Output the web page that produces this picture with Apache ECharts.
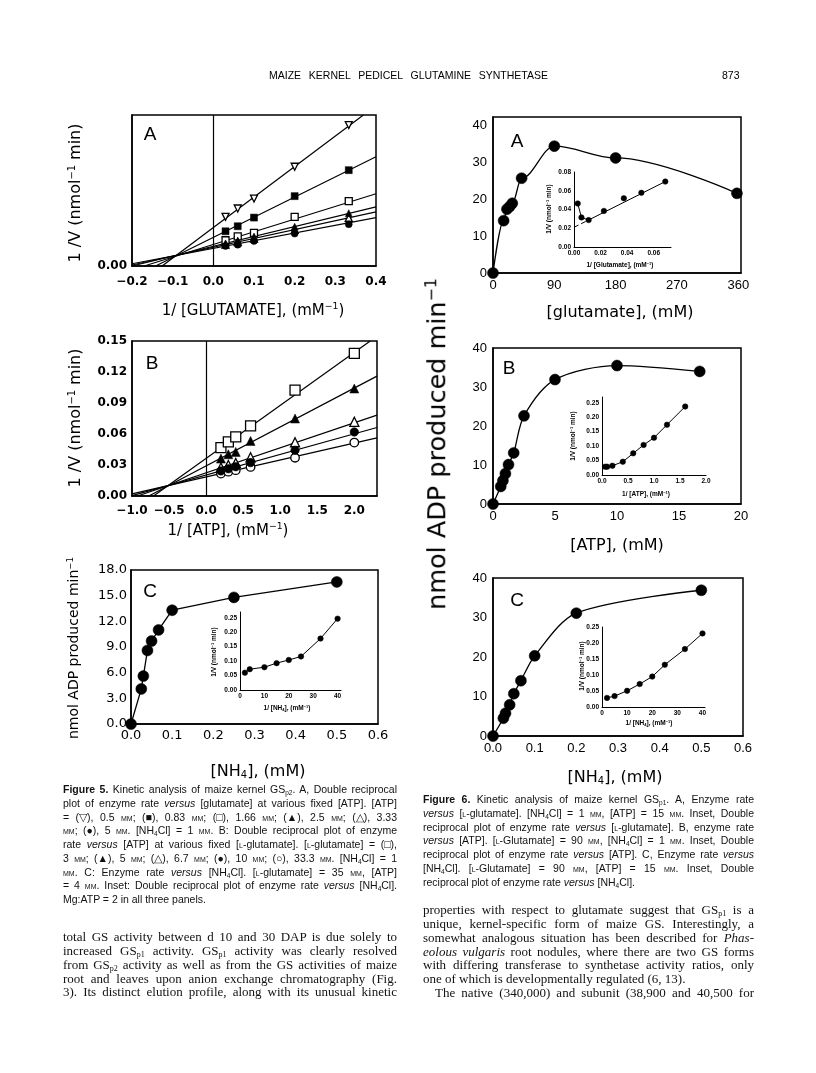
<!DOCTYPE html>
<html><head><meta charset="utf-8">
<script src="https://cdn.jsdelivr.net/npm/echarts@6/dist/echarts.min.js"></script>
<style>
html,body{margin:0;padding:0;background:#fff;}
#page{position:relative;width:816px;height:1073px;overflow:hidden;background:#fff;}
#chart{position:absolute;left:0;top:0;width:816px;height:1073px;}
.t{position:absolute;white-space:nowrap;color:#000;line-height:1;}
.c{transform:translate(-50%,-50%);}
.r{transform:translate(-50%,-50%) rotate(-90deg);}
.ax{font-family:"DejaVu Sans",sans-serif;}
.inset{font-family:"Liberation Sans",Arial,sans-serif;font-weight:bold;font-size:6.5px;}
.blk{position:absolute;color:#111;}
.cap{font-family:"Liberation Sans",Arial,sans-serif;font-size:10.5px;line-height:13.75px;}
.body{font-family:"Liberation Serif","Times New Roman",serif;font-size:13px;line-height:13.85px;}
.j{white-space:nowrap;height:13.75px;}
.body .j{height:13.85px;}
.j span.in{display:inline-block;transform-origin:0 50%;white-space:nowrap;}
.sc{font-variant:small-caps;}
sup{font-size:0.62em;vertical-align:0.55em;line-height:0;}
sub{font-size:0.62em;vertical-align:-0.25em;line-height:0;}
</style>
</head><body>
<div id="page">
<div id="chart"></div>

<!-- header -->
<div class="t j" data-w="279" style="left:269px;top:70px;font-family:'Liberation Sans',Arial,sans-serif;font-size:10.5px;"><span class="in">MAIZE KERNEL PEDICEL GLUTAMINE SYNTHETASE</span></div>
<div class="t" style="left:722px;top:70px;font-family:'Liberation Sans',Arial,sans-serif;font-size:10.5px;">873</div>

<!-- panel letters -->
<div class="t c" style="left:150px;top:133px;font-family:'Liberation Sans',Arial;font-size:19px;">A</div>
<div class="t c" style="left:152px;top:362px;font-family:'Liberation Sans',Arial;font-size:19px;">B</div>
<div class="t c" style="left:150px;top:590px;font-family:'Liberation Sans',Arial;font-size:19px;">C</div>
<div class="t c" style="left:517px;top:140px;font-family:'Liberation Sans',Arial;font-size:19px;">A</div>
<div class="t c" style="left:509px;top:367px;font-family:'Liberation Sans',Arial;font-size:19px;">B</div>
<div class="t c" style="left:517px;top:599px;font-family:'Liberation Sans',Arial;font-size:19px;">C</div>

<!-- Fig 5 axis titles -->
<div class="t r ax" style="left:75px;top:193px;font-size:16px;">1 /V (nmol<sup>−1</sup> min)</div>
<div class="t c ax" style="left:253px;top:310px;font-size:15px;">1/ [GLUTAMATE], (mM<sup>−1</sup>)</div>
<div class="t r ax" style="left:75px;top:418px;font-size:16px;">1 /V (nmol<sup>−1</sup> min)</div>
<div class="t c ax" style="left:228px;top:530px;font-size:15px;">1/ [ATP], (mM<sup>−1</sup>)</div>
<div class="t r ax" style="left:73px;top:648px;font-size:14px;">nmol ADP produced min<sup>−1</sup></div>
<div class="t c ax" style="left:258px;top:771px;font-size:16px;">[NH<sub>4</sub>], (mM)</div>
<!-- Fig 5C inset titles -->
<div class="t r inset" style="left:214px;top:652px;">1/V (nmol<sup>−1</sup> min)</div>
<div class="t c inset" style="left:287px;top:708px;">1/ [NH<sub>4</sub>], (mM<sup>−1</sup>)</div>

<!-- Fig 6 axis titles -->
<div class="t r ax" style="left:437px;top:444px;font-size:25.5px;">nmol ADP produced min<sup>−1</sup></div>
<div class="t c ax" style="left:620px;top:312px;font-size:16px;">[glutamate], (mM)</div>
<div class="t c ax" style="left:617px;top:545px;font-size:16px;">[ATP], (mM)</div>
<div class="t c ax" style="left:615px;top:777px;font-size:16px;">[NH<sub>4</sub>], (mM)</div>
<!-- Fig 6 inset titles -->
<div class="t r inset" style="left:549px;top:209px;">1/V (nmol<sup>−1</sup> min)</div>
<div class="t c inset" style="left:620px;top:265px;">1/ [Glutamate], (mM<sup>−1</sup>)</div>
<div class="t r inset" style="left:573px;top:436px;">1/V (nmol<sup>−1</sup> min)</div>
<div class="t c inset" style="left:646px;top:494px;">1/ [ATP], (mM<sup>−1</sup>)</div>
<div class="t r inset" style="left:582px;top:666px;">1/V (nmol<sup>−1</sup> min)</div>
<div class="t c inset" style="left:649px;top:723px;">1/ [NH<sub>4</sub>], (mM<sup>−1</sup>)</div>

<!-- Figure 5 caption -->
<div class="blk cap" style="left:63px;top:783px;width:334px;">
<div class="j" data-w="334"><span class="in"><b>Figure 5.</b> Kinetic analysis of maize kernel GS<sub>p2</sub>. A, Double reciprocal</span></div>
<div class="j" data-w="334"><span class="in">plot of enzyme rate <i>versus</i> [glutamate] at various fixed [ATP]. [ATP]</span></div>
<div class="j" data-w="334"><span class="in">= (▽), 0.5 <span class="sc">mm</span>; (■), 0.83 <span class="sc">mm</span>; (□), 1.66 <span class="sc">mm</span>; (▲), 2.5 <span class="sc">mm</span>; (△), 3.33</span></div>
<div class="j" data-w="334"><span class="in"><span class="sc">mm</span>; (●), 5 <span class="sc">mm</span>. [NH<sub>4</sub>Cl] = 1 <span class="sc">mm</span>. B: Double reciprocal plot of enzyme</span></div>
<div class="j" data-w="334"><span class="in">rate <i>versus</i> [ATP] at various fixed [<span class="sc">l</span>-glutamate]. [<span class="sc">l</span>-glutamate] = (□),</span></div>
<div class="j" data-w="334"><span class="in">3 <span class="sc">mm</span>; (▲), 5 <span class="sc">mm</span>; (△), 6.7 <span class="sc">mm</span>; (●), 10 <span class="sc">mm</span>; (○), 33.3 <span class="sc">mm</span>. [NH<sub>4</sub>Cl] = 1</span></div>
<div class="j" data-w="334"><span class="in"><span class="sc">mm</span>. C: Enzyme rate <i>versus</i> [NH<sub>4</sub>Cl]. [<span class="sc">l</span>-glutamate] = 35 <span class="sc">mm</span>, [ATP]</span></div>
<div class="j" data-w="334"><span class="in">= 4 <span class="sc">mm</span>. Inset: Double reciprocal plot of enzyme rate <i>versus</i> [NH<sub>4</sub>Cl].</span></div>
<div class="j"><span class="in">Mg:ATP = 2 in all three panels.</span></div>
</div>

<!-- left body text -->
<div class="blk body" style="left:63px;top:930px;width:334px;">
<div class="j" data-w="334"><span class="in">total GS activity between d 10 and 30 DAP is due solely to</span></div>
<div class="j" data-w="334"><span class="in">increased GS<sub>p1</sub> activity. GS<sub>p1</sub> activity was clearly resolved</span></div>
<div class="j" data-w="334"><span class="in">from GS<sub>p2</sub> activity as well as from the GS activities of maize</span></div>
<div class="j" data-w="334"><span class="in">root and leaves upon anion exchange chromatography (Fig.</span></div>
<div class="j" data-w="334"><span class="in">3). Its distinct elution profile, along with its unusual kinetic</span></div>
</div>

<!-- Figure 6 caption -->
<div class="blk cap" style="left:423px;top:793px;width:331px;">
<div class="j" data-w="331"><span class="in"><b>Figure 6.</b> Kinetic analysis of maize kernel GS<sub>p1</sub>. A, Enzyme rate</span></div>
<div class="j" data-w="331"><span class="in"><i>versus</i> [<span class="sc">l</span>-glutamate]. [NH<sub>4</sub>Cl] = 1 <span class="sc">mm</span>, [ATP] = 15 <span class="sc">mm</span>. Inset, Double</span></div>
<div class="j" data-w="331"><span class="in">reciprocal plot of enzyme rate <i>versus</i> [<span class="sc">l</span>-glutamate]. B, enzyme rate</span></div>
<div class="j" data-w="331"><span class="in"><i>versus</i> [ATP]. [<span class="sc">l</span>-Glutamate] = 90 <span class="sc">mm</span>, [NH<sub>4</sub>Cl] = 1 <span class="sc">mm</span>. Inset, Double</span></div>
<div class="j" data-w="331"><span class="in">reciprocal plot of enzyme rate <i>versus</i> [ATP]. C, Enzyme rate <i>versus</i></span></div>
<div class="j" data-w="331"><span class="in">[NH<sub>4</sub>Cl]. [<span class="sc">l</span>-Glutamate] = 90 <span class="sc">mm</span>, [ATP] = 15 <span class="sc">mm</span>. Inset, Double</span></div>
<div class="j"><span class="in">reciprocal plot of enzyme rate <i>versus</i> [NH<sub>4</sub>Cl].</span></div>
</div>

<!-- right body text -->
<div class="blk body" style="left:423px;top:903px;width:331px;">
<div class="j" data-w="331"><span class="in">properties with respect to glutamate suggest that GS<sub>p1</sub> is a</span></div>
<div class="j" data-w="331"><span class="in">unique, kernel-specific form of maize GS. Interestingly, a</span></div>
<div class="j" data-w="331"><span class="in">somewhat analogous situation has been described for <i>Phas-</i></span></div>
<div class="j" data-w="331"><span class="in"><i>eolous vulgaris</i> root nodules, where there are two GS forms</span></div>
<div class="j" data-w="331"><span class="in">with differing transferase to synthetase activity ratios, only</span></div>
<div class="j"><span class="in">one of which is developmentally regulated (6, 13).</span></div>
<div class="j" data-w="319" style="padding-left:12px;"><span class="in">The native (340,000) and subunit (38,900 and 40,500 for</span></div>
</div>
</div>

<script>
// ================= DATA =================
// Fig 5A: 1/V vs 1/[glutamate] at fixed [ATP]
const f5aX = [0.03, 0.06, 0.1, 0.2, 0.333];
const f5aInvTri  = [0.0488, 0.0571, 0.0670, 0.0986, 0.1400]; // 0.5 mM ATP
const f5aFillSq  = [0.0345, 0.0395, 0.0481, 0.0694, 0.0952]; // 0.83 mM
const f5aOpenSq  = [0.0256, 0.0295, 0.0329, 0.0488, 0.0644]; // 1.66 mM
const f5aFillTri = [0.0224, 0.0253, 0.0292, 0.0390, 0.0525]; // 2.5 mM
const f5aOpenTri = [0.0212, 0.0238, 0.0273, 0.0360, 0.0478]; // 3.33 mM
const f5aFillCir = [0.0199, 0.0212, 0.0249, 0.0322, 0.0415]; // 5 mM
const f5aFitInvTri  = [[-0.126, 0], [0.369, 0.15]];
const f5aFitFillSq  = [[-0.142, 0], [0.4, 0.1085]];
const f5aFitOpenSq  = [[-0.170, 0], [0.4, 0.0718]];
const f5aFitFillTri = [[-0.200, 0.0], [0.4, 0.0587]];
const f5aFitOpenTri = [[-0.200, 0.001], [0.4, 0.0537]];
const f5aFitFillCir = [[-0.200, 0.0022], [0.4, 0.0481]];

// Fig 5B: 1/V vs 1/[ATP] at fixed [L-glutamate]
const f5bX = [0.2, 0.3, 0.4, 0.6, 1.2, 2.0];
const f5bOpenSq  = [0.0469, 0.0524, 0.0572, 0.0679, 0.1025, 0.1380]; // 3 mM
const f5bFillTri = [0.0362, 0.0404, 0.0427, 0.0533, 0.0750, 0.1040]; // 5 mM
const f5bOpenTri = [0.0275, 0.0300, 0.0320, 0.0375, 0.0520, 0.0718]; // 6.7 mM
const f5bFillCir = [0.0243, 0.0263, 0.0283, 0.0323, 0.0443, 0.0620]; // 10 mM
const f5bOpenCir = [0.0217, 0.0235, 0.0250, 0.0281, 0.0370, 0.0517]; // 33.3 mM
const f5bFitOpenSq  = [[-0.71, 0], [2.215, 0.15]];
const f5bFitFillTri = [[-0.773, 0], [2.306, 0.116]];
const f5bFitOpenTri = [[-0.926, 0], [2.306, 0.0782]];
const f5bFitFillCir = [[-1.0, 0.0003], [2.306, 0.0663]];
const f5bFitOpenCir = [[-1.0, 0.0021], [2.306, 0.0563]];

// Fig 5C: rate vs [NH4]
const f5cX = [0, 0.025, 0.03, 0.04, 0.05, 0.067, 0.1, 0.25, 0.5];
const f5cY = [0, 4.1, 5.6, 8.6, 9.7, 11.0, 13.3, 14.8, 16.6];
const f5cInsetX = [2, 4, 10, 15, 20, 25, 33, 40];
const f5cInsetY = [0.060, 0.072, 0.079, 0.093, 0.104, 0.116, 0.178, 0.247];

// Fig 6A: rate vs [glutamate]
const f6aX = [0, 15.6, 20.5, 24.4, 28.3, 42, 90, 180, 358];
const f6aY = [0, 14.2, 17.3, 18.0, 18.9, 25.7, 34.4, 31.2, 21.6];
const f6aInsetX = [0.0028, 0.0056, 0.011, 0.0225, 0.0375, 0.0507, 0.0687];
const f6aInsetY = [0.0464, 0.0316, 0.0287, 0.0385, 0.0520, 0.0578, 0.0698];
const f6aInsetFitDash  = [[0, 0.021], [0.011, 0.0288]];
const f6aInsetFitSolid = [[0.011, 0.0288], [0.0687, 0.0698]];

// Fig 6B: rate vs [ATP]
const f6bX = [0, 0.625, 0.8, 1.0, 1.25, 1.67, 2.5, 5, 10, 16.67];
const f6bY = [0, 4.5, 6.0, 7.8, 10.1, 13.1, 22.6, 31.9, 35.5, 34.0];
const f6bInsetX = [0.06, 0.1, 0.2, 0.4, 0.6, 0.8, 1.0, 1.25, 1.6];
const f6bInsetY = [0.0288, 0.0288, 0.032, 0.046, 0.075, 0.104, 0.129, 0.174, 0.237];

// Fig 6C: rate vs [NH4]
const f6cX = [0, 0.025, 0.03, 0.04, 0.05, 0.067, 0.1, 0.2, 0.5];
const f6cY = [0, 4.5, 5.75, 7.9, 10.7, 14.0, 20.3, 31.1, 36.9];
const f6cInsetX = [2, 5, 10, 15, 20, 25, 33, 40];
const f6cInsetY = [0.0285, 0.034, 0.0506, 0.0717, 0.095, 0.132, 0.181, 0.230];

// ================= TEXT JUSTIFY =================
document.querySelectorAll('.j').forEach(el => {
  const sp = el.querySelector('span.in');
  if (!el.dataset.w) return;
  const target = +el.dataset.w;
  const w = sp.getBoundingClientRect().width;
  const n = (sp.textContent.match(/ /g) || []).length;
  if (w <= target) { if (n) sp.style.wordSpacing = ((target - w) / n) + 'px'; }
  else { sp.style.transform = 'scaleX(' + (target / w) + ')'; }
});

// ================= CHART =================
const chart = echarts.init(document.getElementById('chart'), null, {renderer: 'canvas'});
const fmtN = (v, d) => { let r = Number(v.toFixed(d)); if (r === 0) r = 0; return r.toFixed(d).replace('-', '\u2212'); };
const onStep = (v, base, step) => Math.abs((v - base) / step - Math.round((v - base) / step)) < 1e-6;

const grids = [
  {left:132, top:115, width:244, height:151, show:true},  // 0 5A
  {left:132, top:341, width:245, height:155, show:true},  // 1 5B
  {left:131, top:570, width:247, height:154, show:true},  // 2 5C
  {left:240, top:612, width:101, height:78,  show:false}, // 3 5C inset
  {left:493, top:117, width:248, height:156, show:true},  // 4 6A
  {left:574, top:172, width:97,  height:75,  show:false}, // 5 6A inset
  {left:493, top:348, width:248, height:156, show:true},  // 6 6B
  {left:602, top:397, width:104, height:78,  show:false}, // 7 6B inset
  {left:493, top:578, width:250, height:158, show:true},  // 8 6C
  {left:602, top:627, width:103, height:80,  show:false}  // 9 6C inset
].map(g => Object.assign({borderColor:'#000', borderWidth:1.5, backgroundColor:'transparent', containLabel:false, outerBoundsMode:'none'}, g));

const MAIN5 = {ff:'DejaVu Sans', fs:12, fw:'bold', lw:1.5};
const MAIN5C = {ff:'DejaVu Sans', fs:13, fw:'normal', lw:1.5};
const MAIN6 = {ff:'Liberation Sans', fs:13, fw:'normal', lw:1.5};
const INS = {ff:'Liberation Sans', fs:6.5, fw:'bold', lw:1};

function mkAxis(gi, min, max, step, dec, st, margin, only0) {
  return {type:'value', gridIndex:gi, min:min, max:max, interval:step, scale:false,
    axisLine:{show:true, onZero:false, lineStyle:{color:'#000', width:st.lw}},
    axisTick:{show:false}, splitLine:{show:false}, minorTick:{show:false},
    axisLabel:{show:true, margin:margin, color:'#000', fontFamily:st.ff, fontSize:st.fs, fontWeight:st.fw, hideOverlap:false,
      showMinLabel:true, showMaxLabel:true,
      formatter: v => {
        if (only0) return Math.abs(v) < 1e-9 ? fmtN(0, dec) : '';
        return (onStep(v, min, step) && v <= max + 1e-9) ? fmtN(v, dec) : '';
      }}};
}

const xAxes = [
  mkAxis(0, -0.2, 0.4, 0.1, 1, MAIN5, 10),
  mkAxis(1, -1.0, 2.306, 0.5, 1, MAIN5, 9),
  mkAxis(2, 0, 0.6, 0.1, 1, MAIN5C, 5),
  mkAxis(3, 0, 41.4, 10, 0, INS, 3),
  mkAxis(4, 0, 364, 90, 0, MAIN6, 6),
  mkAxis(5, 0, 0.073, 0.02, 2, INS, 3),
  mkAxis(6, 0, 20, 5, 0, MAIN6, 6),
  mkAxis(7, 0, 2.0, 0.5, 1, INS, 3),
  mkAxis(8, 0, 0.6, 0.1, 1, MAIN6, 6),
  mkAxis(9, 0, 41, 10, 0, INS, 3)
];
const yAxes = [
  mkAxis(0, 0, 0.15, 0.15, 2, MAIN5, 5, true),
  mkAxis(1, 0, 0.15, 0.03, 2, MAIN5, 5),
  mkAxis(2, 0, 18, 3, 1, MAIN5C, 4),
  mkAxis(3, 0, 0.27, 0.05, 2, INS, 3),
  mkAxis(4, 0, 42.3, 10, 0, MAIN6, 6),
  mkAxis(5, 0, 0.08, 0.02, 2, INS, 3),
  mkAxis(6, 0, 40, 10, 0, MAIN6, 6),
  mkAxis(7, 0, 0.27, 0.05, 2, INS, 3),
  mkAxis(8, 0, 40, 10, 0, MAIN6, 6),
  mkAxis(9, 0, 0.25, 0.05, 2, INS, 3)
];

const S = [];
const pts = (xs, ys) => xs.map((x, i) => [x, ys[i]]);
function sc(gi, data, sym, size, open, rot) {
  S.push({type:'scatter', xAxisIndex:gi, yAxisIndex:gi, data:data, symbol:sym, symbolSize:size,
    symbolRotate: rot || 0, silent:true, z:5,
    itemStyle: open ? {color:'#fff', borderColor:'#000', borderWidth:1.3, opacity:1}
                    : {color:'#000', borderColor:'#000', borderWidth:0.5, opacity:1}});
}
function ln(gi, data, w, opt) {
  opt = opt || {};
  const s = {type:'line', xAxisIndex:gi, yAxisIndex:gi, data:data, showSymbol:false, symbol:'none',
    smooth: opt.smooth || false, silent:true, z:3,
    lineStyle:{color:'#000', width:w, type: opt.dash ? [5, 3] : 'solid'}};
  if (opt.mono) s.smoothMonotone = 'x';
  if (opt.zero) s.markLine = {silent:true, symbol:['none','none'], label:{show:false}, animation:false,
      lineStyle:{color:'#000', type:'solid', width:1.2}, data:[{xAxis:0}]};
  S.push(s);
}

// Fig 5A
ln(0, f5aFitInvTri, 1.2, {zero:true});
ln(0, f5aFitFillSq, 1.2); ln(0, f5aFitOpenSq, 1.2); ln(0, f5aFitFillTri, 1.2);
ln(0, f5aFitOpenTri, 1.2); ln(0, f5aFitFillCir, 1.2);
sc(0, pts(f5aX, f5aInvTri), 'triangle', 7, true, 180);
sc(0, pts(f5aX, f5aFillSq), 'rect', 7, false);
sc(0, pts(f5aX, f5aOpenSq), 'rect', 7, true);
sc(0, pts(f5aX, f5aOpenTri), 'triangle', 7, true);
sc(0, pts(f5aX, f5aFillTri), 'triangle', 7, false);
sc(0, pts(f5aX, f5aFillCir), 'circle', 7, false);

// Fig 5B
ln(1, f5bFitOpenSq, 1.2, {zero:true});
ln(1, f5bFitFillTri, 1.2); ln(1, f5bFitOpenTri, 1.2); ln(1, f5bFitFillCir, 1.2); ln(1, f5bFitOpenCir, 1.2);
sc(1, pts(f5bX, f5bOpenSq), 'rect', 10, true);
sc(1, pts(f5bX, f5bFillTri), 'triangle', 9, false);
sc(1, pts(f5bX, f5bOpenTri), 'triangle', 9, true);
sc(1, pts(f5bX, f5bOpenCir), 'circle', 8.5, true);
sc(1, pts(f5bX, f5bFillCir), 'circle', 8.5, false);

// Fig 5C + inset
ln(2, pts(f5cX, f5cY), 1.3);
sc(2, pts(f5cX, f5cY), 'circle', 11, false);
ln(3, pts(f5cInsetX, f5cInsetY), 1);
sc(3, pts(f5cInsetX, f5cInsetY), 'circle', 5.5, false);

// Fig 6A + inset
ln(4, pts(f6aX, f6aY), 1.3, {smooth:0.35, mono:true});
sc(4, pts(f6aX, f6aY), 'circle', 11, false);
ln(5, pts(f6aInsetX.slice(0, 3), f6aInsetY.slice(0, 3)), 1);
ln(5, f6aInsetFitDash, 1, {dash:true});
ln(5, f6aInsetFitSolid, 1);
sc(5, pts(f6aInsetX, f6aInsetY), 'circle', 5.5, false);

// Fig 6B + inset
ln(6, pts(f6bX, f6bY), 1.3, {smooth:0.3});
sc(6, pts(f6bX, f6bY), 'circle', 11, false);
ln(7, pts(f6bInsetX, f6bInsetY), 1);
sc(7, pts(f6bInsetX, f6bInsetY), 'circle', 5.5, false);

// Fig 6C + inset
ln(8, pts(f6cX, f6cY), 1.3, {smooth:0.3});
sc(8, pts(f6cX, f6cY), 'circle', 11, false);
ln(9, pts(f6cInsetX, f6cInsetY), 1);
sc(9, pts(f6cInsetX, f6cInsetY), 'circle', 5.5, false);

chart.setOption({
  animation:false,
  backgroundColor:'transparent',
  grid: grids,
  xAxis: xAxes,
  yAxis: yAxes,
  series: S
});
</script>
</body></html>
